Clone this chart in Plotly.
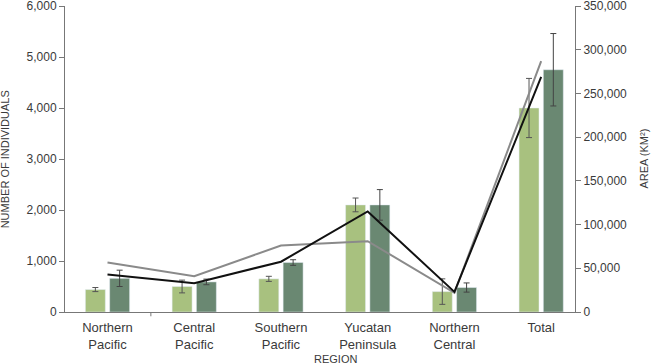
import plotly.graph_objects as go

categories = ["Northern<br>Pacific", "Central<br>Pacific", "Southern<br>Pacific",
              "Yucatan<br>Peninsula", "Northern<br>Central", "Total"]
individuals_a = [440, 500, 650, 2100, 400, 4000]
individuals_a_err = [40, 125, 50, 135, 250, 580]
individuals_b = [660, 590, 970, 2100, 480, 4750]
individuals_b_err = [160, 55, 55, 300, 90, 710]
area_black = [43000, 33000, 57500, 115000, 23000, 269000]
area_gray = [56500, 41000, 76000, 81000, 22000, 287000]

light = "#a8c17f"
dark = "#6a8872"
txt = "#3a3a3a"
axc = "#777777"
font = "Liberation Sans, Arial, sans-serif"

fig = go.Figure()
fig.add_trace(go.Bar(x=categories, y=individuals_a, marker_color=light, width=0.23, offset=-0.255,
                     error_y=dict(type="data", array=individuals_a_err, color="#555555", thickness=1, width=3),
                     showlegend=False))
fig.add_trace(go.Bar(x=categories, y=individuals_b, marker_color=dark, width=0.23, offset=0.025,
                     error_y=dict(type="data", array=individuals_b_err, color="#444444", thickness=1, width=3),
                     showlegend=False))
fig.add_trace(go.Scatter(x=categories, y=area_gray, yaxis="y2", mode="lines",
                         line=dict(color="#8a8a8a", width=2), showlegend=False))
fig.add_trace(go.Scatter(x=categories, y=area_black, yaxis="y2", mode="lines",
                         line=dict(color="#111111", width=2), showlegend=False))

fig.update_layout(
    width=652, height=364,
    margin=dict(l=65, r=77, t=6, b=52, autoexpand=False),
    plot_bgcolor="white", paper_bgcolor="white",
    font=dict(family=font, color=txt, size=12),
    barmode="overlay",
    xaxis=dict(type="category", range=[-0.49, 5.39], showline=True, linecolor=axc, linewidth=1,
               ticks="", showgrid=False, tickfont=dict(size=13, color=txt), zeroline=False,
               automargin=False, ticklabelstandoff=3),
    yaxis=dict(range=[0, 6000], dtick=1000, tickformat=",", showline=True, linecolor=axc,
               ticks="outside", ticklen=5, tickcolor=axc, showgrid=False, zeroline=False,
               tickfont=dict(size=12, color=txt), automargin=False, ticklabeloverflow="allow"),
    yaxis2=dict(range=[0, 350000], dtick=50000, tickformat=",", overlaying="y", side="right",
                showline=True, linecolor=axc, ticks="outside", ticklen=5, tickcolor=axc,
                showgrid=False, zeroline=False, tickfont=dict(size=12, color=txt),
                automargin=False, ticklabeloverflow="allow"),
    annotations=[
        dict(text="NUMBER OF INDIVIDUALS", xref="paper", yref="paper", x=-0.117, y=0.5,
             textangle=-90, showarrow=False, font=dict(size=11, color=txt), xanchor="center", yanchor="middle"),
        dict(text="AREA (KM²)", xref="paper", yref="paper", x=1.1345, y=0.5,
             textangle=-90, showarrow=False, font=dict(size=11, color=txt), xanchor="center", yanchor="middle"),
        dict(text="REGION", xref="paper", yref="paper", x=0.53, y=-0.152,
             showarrow=False, font=dict(size=11, color=txt), xanchor="center", yanchor="middle"),
    ],
    shapes=[dict(type="line", xref="x", yref="paper", x0=0.5, x1=0.5, y0=0, y1=-0.014,
                 line=dict(color=axc, width=1))],
)

fig.write_html("out.html", config={"displayModeBar": False},
               post_script="document.body.style.margin='0';")
